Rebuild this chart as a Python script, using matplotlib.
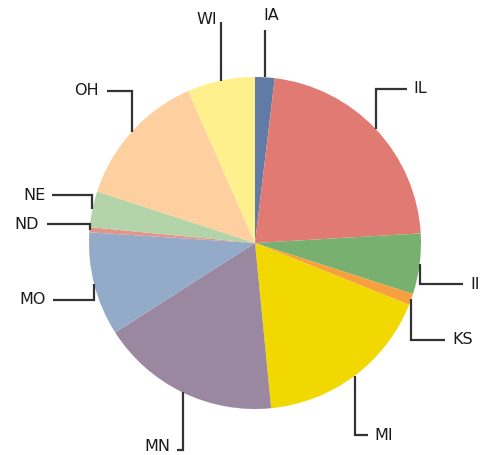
import matplotlib
matplotlib.use("Agg")
import matplotlib.pyplot as plt
import numpy as np

# state shares (percent)
states = ["IA", "IL", "II", "KS", "MI", "MN", "MO", "ND", "NE", "OH", "WI"]
shares = [1.9, 22.2, 5.9, 1.1, 17.4, 17.5, 10.1, 0.5, 3.5, 13.4, 6.6]
colors = ["#5f7ba6", "#e07a72", "#78b06f", "#f7a040", "#f0d800", "#9a87a0",
          "#93abc9", "#e0968c", "#b3d4a8", "#fed0a0", "#fff08e"]

# label layout: (elbow y, line end x, text x, alignment) in pie-radius units
layout = {
    "IA": (1.283, None, 0.10, "center"),
    "WI": (1.331, None, -0.229, "right"),
    "IL": (0.928, 0.916, 0.952, "left"),
    "II": (-0.247, 1.253, 1.295, "left"),
    "KS": (-0.584, 1.145, 1.187, "left"),
    "MI": (-1.157, 0.681, 0.717, "left"),
    "MN": (-1.247, -0.470, -0.512, "right"),
    "MO": (-0.343, -1.217, -1.259, "right"),
    "ND": (0.114, -1.253, -1.301, "right"),
    "NE": (0.289, -1.223, -1.259, "right"),
    "OH": (0.916, -0.892, -0.940, "right"),
}
text_y = {"IA": 1.373, "WI": 1.349, "MN": -1.225}

fig = plt.figure(figsize=(4.81, 4.55), dpi=100)
ax = fig.add_axes([0, 0, 1, 1])
wedges, _ = ax.pie(shares, colors=colors, startangle=90, counterclock=False,
                   radius=1.0, wedgeprops=dict(linewidth=0))

line_col = "#333333"
for w, name in zip(wedges, states):
    mid = np.radians((w.theta1 + w.theta2) / 2)
    ax_x, ax_y = np.cos(mid), np.sin(mid)
    ly, lx, tx, ha = layout[name]
    if lx is None:
        ax.plot([ax_x, ax_x], [ax_y, ly], color=line_col, lw=1.6,
                solid_capstyle="butt")
    else:
        ax.plot([ax_x, ax_x, lx], [ax_y, ly, ly], color=line_col, lw=1.6,
                solid_capstyle="butt", solid_joinstyle="miter")
    ty = text_y.get(name, ly)
    ax.text(tx, ty, name, ha=ha, va="center", fontsize=11.5,
            color="#1a1a1a", family="DejaVu Sans")

ax.set_aspect("equal")
ax.set_xlim(-255 / 166, (481 - 255) / 166)
ax.set_ylim((243 - 455) / 166, 243 / 166)
ax.axis("off")

fig.savefig("out.png", dpi=100)
